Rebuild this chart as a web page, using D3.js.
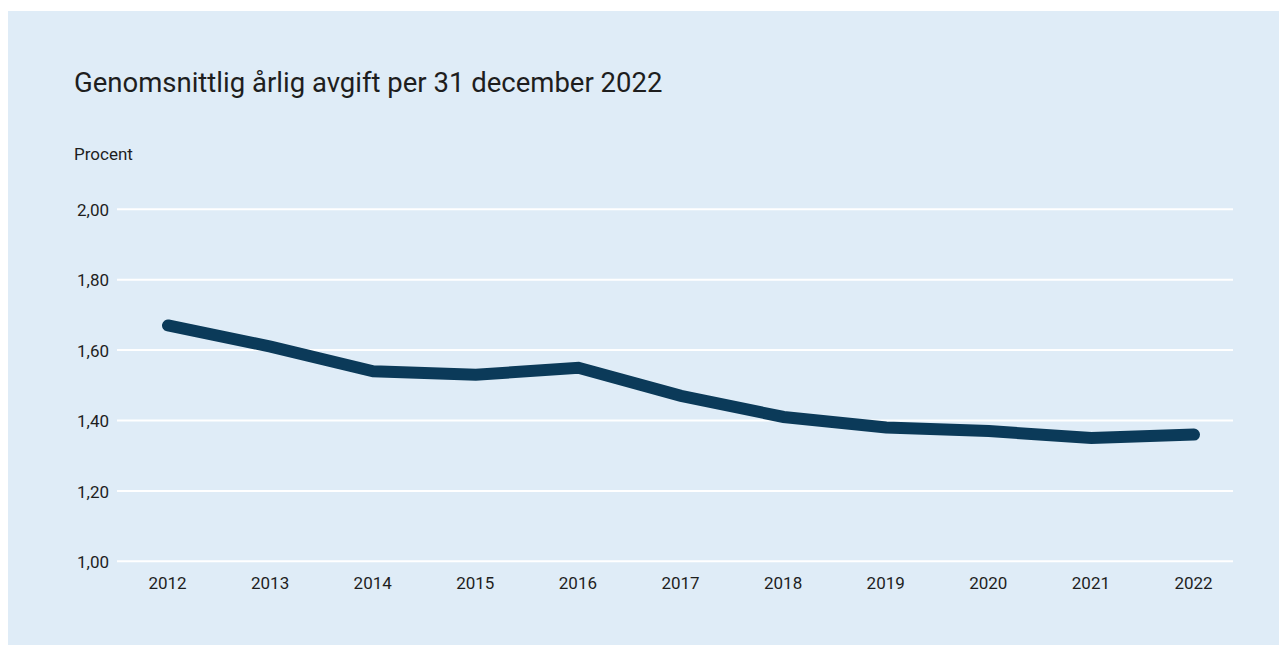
<!DOCTYPE html>
<html>
<head>
<meta charset="utf-8">
<script src="https://cdn.jsdelivr.net/npm/d3@7"></script>
<style>
  html, body { margin: 0; padding: 0; background: #ffffff; }
  svg { display: block; }
  text { font-family: Roboto, "Noto Sans", sans-serif; fill: #1e1e1e; }
</style>
</head>
<body>
<svg id="chart" width="1279" height="645"></svg>
<script>
const years = ["2012","2013","2014","2015","2016","2017","2018","2019","2020","2021","2022"];
const fees = [1.67, 1.61, 1.54, 1.53, 1.55, 1.47, 1.41, 1.38, 1.37, 1.35, 1.36];
const yTicks = [1.0, 1.2, 1.4, 1.6, 1.8, 2.0];
const titleText = "Genomsnittlig årlig avgift per 31 december 2022";
const unitText = "Procent";

const svg = d3.select("#chart");

svg.append("rect")
  .attr("x", 8).attr("y", 11)
  .attr("width", 1279 - 8).attr("height", 645 - 11)
  .attr("fill", "#dfecf7");

svg.append("text")
  .attr("x", 74).attr("y", 92)
  .attr("font-size", 27.5)
  .text(titleText);

svg.append("text")
  .attr("x", 74).attr("y", 159.5)
  .attr("font-size", 17)
  .text(unitText);

const x = d3.scalePoint().domain(years).range([168, 1194]);
const y = d3.scaleLinear().domain([1, 2]).range([561.3, 209.3]);

// gridlines + y labels
const yAxis = d3.axisLeft(y)
  .tickValues(yTicks)
  .tickSize(0)
  .tickPadding(0)
  .tickFormat(d => d3.format(".2f")(d).replace(".", ","));

const gy = svg.append("g").attr("transform", "translate(109,0)").call(yAxis);
gy.select(".domain").remove();
gy.selectAll("text")
  .attr("font-size", 17)
  .attr("font-family", "Roboto, sans-serif")
  .attr("fill", "#1e1e1e")
  .attr("dy", "0.36em");

svg.append("g").selectAll("line")
  .data(yTicks)
  .join("line")
  .attr("x1", 117).attr("x2", 1233)
  .attr("y1", d => y(d)).attr("y2", d => y(d))
  .attr("stroke", "#ffffff")
  .attr("stroke-width", 2);

// x axis labels
const xAxis = d3.axisBottom(x).tickSize(0).tickPadding(0);
const gx = svg.append("g").attr("transform", "translate(-1,589)").call(xAxis);
gx.select(".domain").remove();
gx.selectAll("text")
  .attr("font-size", 17)
  .attr("font-family", "Roboto, sans-serif")
  .attr("fill", "#1e1e1e")
  .attr("dy", 0)
  .attr("y", 0);

// line
const line = d3.line()
  .x((d, i) => x(years[i]))
  .y(d => y(d));

svg.append("path")
  .datum(fees)
  .attr("d", line)
  .attr("fill", "none")
  .attr("stroke", "#0b3a59")
  .attr("stroke-width", 12)
  .attr("stroke-linecap", "round")
  .attr("stroke-linejoin", "miter");
</script>
</body>
</html>
